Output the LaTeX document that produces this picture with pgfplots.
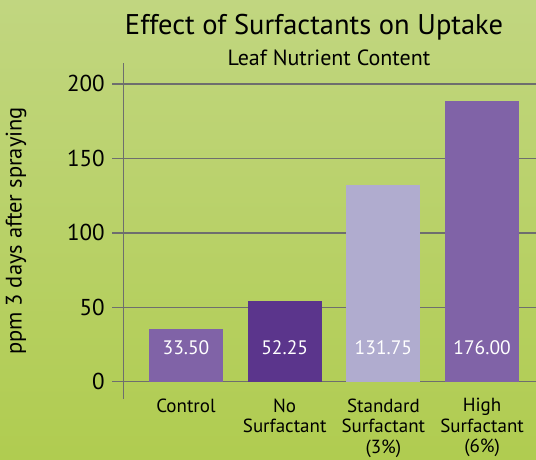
\documentclass[border=0pt]{standalone}
\usepackage{pgfplots}
\pgfplotsset{compat=1.18}
\usepackage{fontspec}
\setmainfont{PT Sans}
\definecolor{bgtop}{RGB}{193,214,128}
\definecolor{bgmid}{RGB}{190,213,120}
\definecolor{bgbot}{RGB}{176,204,80}
\definecolor{barA}{RGB}{128,99,167}
\definecolor{barB}{RGB}{91,53,140}
\definecolor{barC}{RGB}{176,172,207}
\definecolor{gridc}{RGB}{110,110,110}
\begin{document}
\begin{tikzpicture}[x=1pt,y=1pt]
\shade[top color=bgtop, middle color=bgmid, bottom color=bgbot] (0,0) rectangle (536,459);
\useasboundingbox (0,0) rectangle (536,459);
\begin{axis}[
  at={(123.3pt,60pt)}, anchor=south west,
  scale only axis, width=412.7pt, height=336pt,
  xmin=-0.635, xmax=3.546, ymin=-11.6, ymax=214,
  axis y line=left, axis x line=bottom,
  axis line style={-},
  y axis line style={draw=gridc, line width=1.5pt},
  x axis line style={draw=none},
  xtick={0,1,2,3},
  xticklabels={Control, {No\\Surfactant}, {Standard\\Surfactant\\(3\%)}, {High\\Surfactant\\(6\%)}},
  xticklabel style={align=center, font=\fontsize{19}{20.5}\selectfont, anchor=north, yshift=15pt},
  xtick style={draw=none},
  ytick={0,50,100,150,200},
  ymajorgrids, grid style={draw=gridc, line width=1.5pt},
  tick align=outside, major tick length=11pt,
  ytick style={draw=gridc, line width=1.5pt},
  yticklabel style={font=\fontsize{23}{26}\selectfont, xshift=-4pt},
  /pgf/number format/assume math mode=true,
]
\addplot[ybar, bar width=74pt, bar shift=0pt, fill=barA, draw=none] coordinates {(0,35.4)};
\addplot[ybar, bar width=74pt, bar shift=0pt, fill=barB, draw=none] coordinates {(1,54.2)};
\addplot[ybar, bar width=74pt, bar shift=0pt, fill=barC, draw=none] coordinates {(2,132.1)};
\addplot[ybar, bar width=74pt, bar shift=0pt, fill=barA, draw=none] coordinates {(3,188.5)};
\addplot[draw=none, mark=none, nodes near coords, point meta=explicit symbolic,
  nodes near coords style={anchor=center, text=white, font=\fontsize{19.5}{22}\selectfont}]
  table[x=x, y=y, meta=label] {
x y label
0 22.6 33.50
1 22.6 52.25
2 22.6 131.75
3 22.6 176.00
};
\end{axis}
\node[font=\fontsize{28.5}{32}\selectfont, anchor=base] at (314,424) {Effect of Surfactants on Uptake};
\node[font=\fontsize{22}{26}\selectfont, anchor=base] at (329,393) {Leaf Nutrient Content};
\node[font=\fontsize{22.5}{26}\selectfont, rotate=90] at (16,228) {ppm 3 days after spraying};
\end{tikzpicture}
\end{document}
